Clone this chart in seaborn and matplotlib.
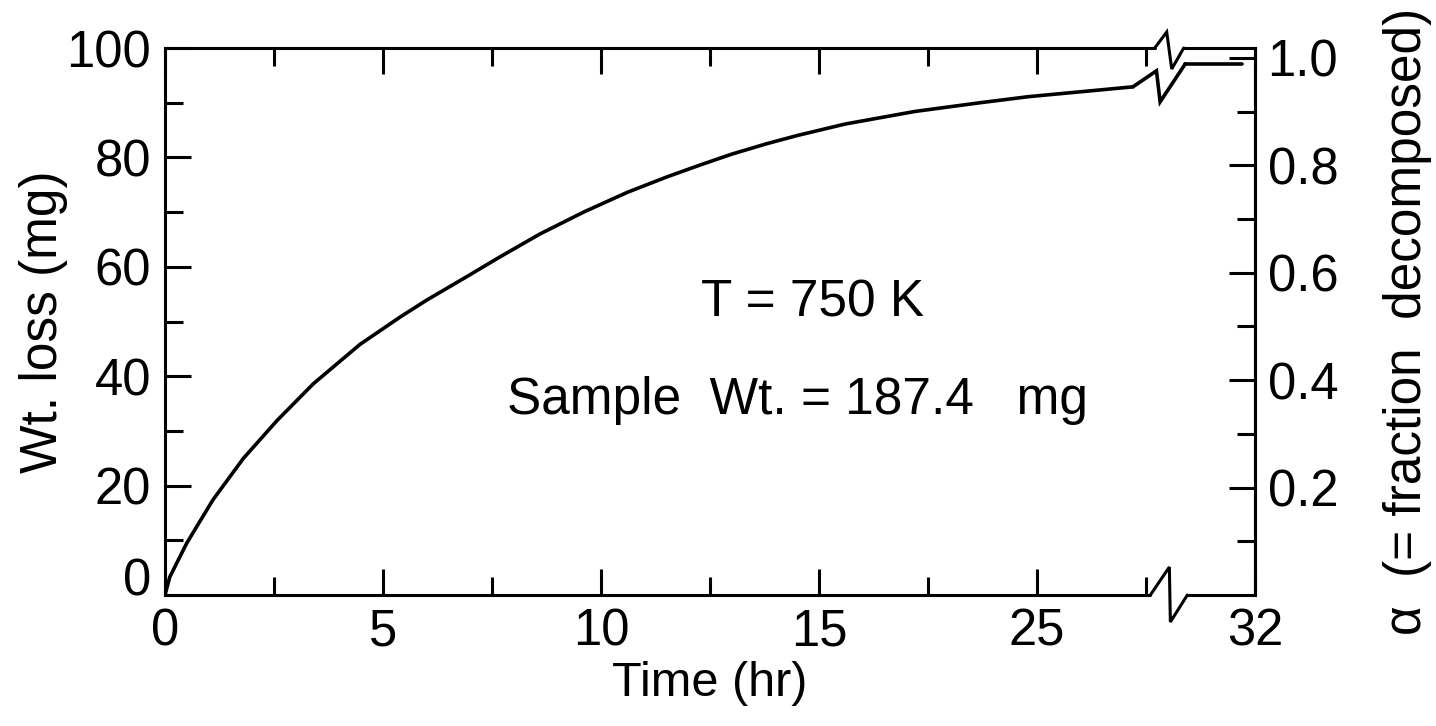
import numpy as np
import pandas as pd
import matplotlib
matplotlib.use("Agg")
import matplotlib.pyplot as plt
import seaborn as sns

# ---------------- data (x = position on the time axis, hr) ----------------
time_pos = [0, 0.11, 0.5, 1.1, 1.8, 2.57, 3.4, 4.47, 5.39, 6.0, 6.9, 7.68, 8.6,
            9.6, 10.6, 11.5, 12.27, 13.0, 13.8, 14.5, 15.6, 17.2, 18.7, 19.8,
            21.0, 22.2]
wt_loss = [0, 3.3, 9.5, 17.4, 25.0, 31.9, 38.6, 45.8, 50.8, 53.9, 58.1, 61.8,
           66.0, 70.0, 73.6, 76.4, 78.6, 80.6, 82.5, 84.0, 86.1, 88.4, 90.0,
           91.1, 92.0, 92.9]
final_pos = [23.4, 24.7]
final_wt = [97.1, 97.1]

x_tick_pos = [0, 5, 10, 15, 20, 25]
x_tick_labels = ["0", "5", "10", "15", "25", "32"]
x_minor = [2.5, 7.5, 12.5, 17.5, 22.5]
y_ticks = [0, 20, 40, 60, 80, 100]
y_minor = [10, 30, 50, 70, 90]
alpha_ticks = [0.2, 0.4, 0.6, 0.8, 1.0]
alpha_labels = ["0.2", "0.4", "0.6", "0.8", "1.0"]
alpha_minor = [0.1, 0.3, 0.5, 0.7, 0.9]
alpha_full_mg = 98.2   # wt loss corresponding to alpha = 1.0

sns.set_style("ticks")
plt.rcParams["font.family"] = ["Liberation Sans", "DejaVu Sans"]
plt.rcParams["text.color"] = "black"
plt.rcParams["axes.labelcolor"] = "black"
plt.rcParams["xtick.color"] = "black"
plt.rcParams["ytick.color"] = "black"

FS = 36.5
FL = 37
LW = 2.2
fig = plt.figure(figsize=(14.36, 7.26), dpi=100)
ax = fig.add_axes([165 / 1436, 1 - 595 / 726, 1090 / 1436, 547 / 726])

df1 = pd.DataFrame({"t": time_pos, "w": wt_loss})
df2 = pd.DataFrame({"t": final_pos, "w": final_wt})
sns.lineplot(data=df1, x="t", y="w", ax=ax, color="black", lw=2.6,
             estimator=None, sort=False)
sns.lineplot(data=df2, x="t", y="w", ax=ax, color="black", lw=2.6,
             estimator=None, sort=False)

ax.set_xlim(0, 25)
ax.set_ylim(0, 100)
ax.set_xticks(x_tick_pos)
ax.set_xticklabels(x_tick_labels)
ax.set_xticks(x_minor, minor=True)
ax.set_yticks(y_ticks)
ax.set_yticklabels([str(v) for v in y_ticks])
ax.set_yticks(y_minor, minor=True)
ax.tick_params(axis="both", which="major", direction="in", length=19, width=LW,
               labelsize=FS, color="black", labelcolor="black")
ax.tick_params(axis="both", which="minor", direction="in", length=13, width=LW,
               color="black")
ax.tick_params(axis="x", which="both", top=True, bottom=True, pad=9)
ax.tick_params(axis="y", which="both", left=True, right=False, pad=10)
ax.set_xlabel("Time (hr)", fontsize=35, labelpad=3, color="black")
ax.set_ylabel("Wt. loss (mg)", fontsize=FL, labelpad=-1, color="black")

# zero label on y sits on the baseline
ylabs = ax.get_yticklabels()
ylabs[0].set_verticalalignment("baseline")

for s in ["top", "bottom"]:
    ax.spines[s].set_visible(False)
ax.spines["left"].set_linewidth(LW)
ax.spines["right"].set_linewidth(LW)
ax.spines["left"].set_color("black")
ax.spines["right"].set_color("black")

# right axis: alpha
ax2 = ax.twinx()
ax2.set_ylim(0, 100 / alpha_full_mg)
ax2.set_yticks(alpha_ticks)
ax2.set_yticklabels(alpha_labels)
ax2.set_yticks(alpha_minor, minor=True)
ax2.tick_params(axis="y", which="major", direction="in", length=19, width=LW,
                labelsize=FS, pad=9, color="black", labelcolor="black")
ax2.tick_params(axis="y", which="minor", direction="in", length=13, width=LW,
                color="black")
for s in ["top", "bottom", "left"]:
    ax2.spines[s].set_visible(False)
ax2.spines["right"].set_linewidth(LW)
ax2.spines["right"].set_color("black")
ax2.set_ylabel("α  (= fraction  decomposed)", fontsize=FL, labelpad=32,
               color="black")

# broken frame lines and break symbols (pixel offsets converted to data)
inv = ax.transData.inverted()


def zig(anchor, offsets_px, lw):
    a = ax.transData.transform(anchor)
    pts = np.array([[a[0] + dx, a[1] + dy] for dx, dy in offsets_px])
    d = inv.transform(pts)
    ax.plot(d[:, 0], d[:, 1], color="black", lw=lw, clip_on=False,
            solid_joinstyle="miter")
    return d[-1]


xmin, xmax = ax.get_xlim()
ymin, ymax = ax.get_ylim()
bx = 22.6
end_b = zig((bx, ymin), [(0, 0), (19, 28), (20, -27), (37, 0)], LW)
ax.plot([xmin, bx], [ymin, ymin], color="black", lw=LW, clip_on=False)
ax.plot([end_b[0], xmax], [ymin, ymin], color="black", lw=LW, clip_on=False)

tx = 22.7
end_t = zig((tx, ymax), [(0, 0), (12, 16), (17, -21), (29, 0)], LW)
ax.plot([xmin, tx], [ymax, ymax], color="black", lw=LW, clip_on=False)
ax.plot([end_t[0], xmax], [ymax, ymax], color="black", lw=LW, clip_on=False)

# curve break connecting the two segments
a0 = ax.transData.transform((time_pos[-1], wt_loss[-1]))
a1 = ax.transData.transform((final_pos[0], final_wt[0]))
d = a1 - a0
zig((time_pos[-1], wt_loss[-1]),
    [(0, 0), (d[0] * 0.45, 16), (d[0] * 0.52, -15), (d[0], d[1])], 2.6)

# annotation
ax.text(14.85, 53.3, "T = 750 K", fontsize=37, ha="center", va="center")
ax.text(14.5, 35.5, "Sample  Wt. = 187.4   mg", fontsize=37, ha="center",
        va="center")

fig.savefig("out.png", dpi=100, facecolor="white")
